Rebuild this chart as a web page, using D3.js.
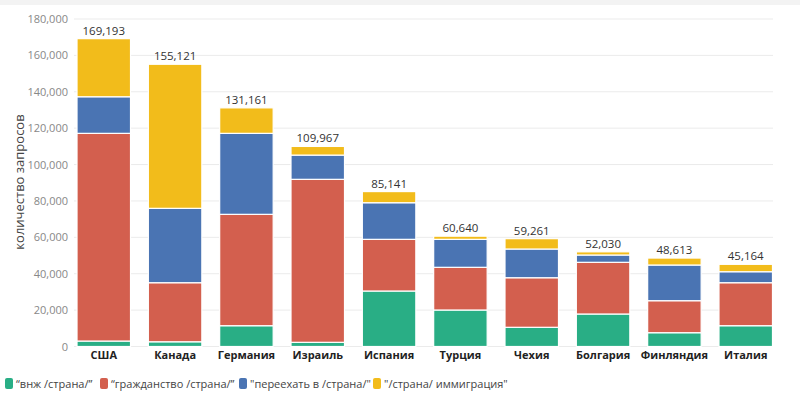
<!DOCTYPE html>
<html><head><meta charset="utf-8">
<script src="https://cdn.jsdelivr.net/npm/d3@7"></script>
<style>
body{margin:0;background:#fff;}
svg{display:block;font-family:"Open Sans","Noto Sans",sans-serif;}
</style></head>
<body><svg id="c" width="800" height="396"></svg>
<script>
const categories = ["США","Канада","Германия","Израиль","Испания","Турция","Чехия","Болгария","Финляндия","Италия"];
const seriesNames = ["“внж /страна/”","“гражданство /страна/”","\"переехать в /страна/\"","\"/страна/ иммиграция\""];
const vnzh       = [3000, 2600, 11430, 2300, 30500, 20060, 10550, 17860, 7580, 11430];
const grazhd     = [114150, 32460, 61210, 89580, 28400, 23460, 27250, 28410, 17590, 23630];
const pereehat   = [20115, 40880, 44510, 13320, 20120, 15380, 15780, 4010, 19610, 6040];
const immigracia = [31928, 79181, 14011, 4767, 6121, 1740, 5681, 1750, 3833, 4064];
const yTicks = [0,20000,40000,60000,80000,100000,120000,140000,160000,180000];
const colors = ["#29ae85","#d35f4e","#4a74b3","#f2bc1b"];
const yTitle = "количество запросов";

const svg = d3.select("#c");
svg.append("rect").attr("x",0).attr("y",0).attr("width",800).attr("height",5).attr("fill","#f3f3f3");

const x = d3.scaleBand().domain(categories).range([68.1,781.4]).paddingInner(0.25).paddingOuter(0.125);
const y = d3.scaleLinear().domain([0,180000]).range([346.5,19]);

// grid
svg.append("g").selectAll("line").data(yTicks).join("line")
  .attr("x1",74).attr("x2",773).attr("y1",d=>y(d)).attr("y2",d=>y(d))
  .attr("stroke","#ebebeb").attr("stroke-width",1);

// y axis
const yAxis = d3.axisLeft(y).tickValues(yTicks).tickFormat(d3.format(",")).tickSize(0).tickPadding(0);
const gy = svg.append("g").attr("transform","translate(68,0)").call(yAxis);
gy.select(".domain").remove();
gy.selectAll("text").attr("fill","#888").attr("font-size","11px").attr("font-family","'Open Sans',sans-serif");

svg.append("text").attr("transform","translate(24,182) rotate(-90)")
  .attr("text-anchor","middle").attr("font-size","13px").attr("fill","#444").text(yTitle);

// x axis
const xAxis = d3.axisBottom(x).tickSize(0).tickPadding(0);
const gx = svg.append("g").attr("transform","translate(0,351)").call(xAxis);
gx.select(".domain").remove();
gx.selectAll("text").attr("fill","#222").attr("font-size","11px").attr("font-weight","bold").attr("dy","0.71em").attr("font-family","'Open Sans',sans-serif");

// stacked data
const rows = categories.map((c,i)=>({cat:c, s0:vnzh[i], s1:grazhd[i], s2:pereehat[i], s3:immigracia[i]}));
const stack = d3.stack().keys(["s0","s1","s2","s3"])(rows);

svg.append("g").selectAll("g").data(stack).join("g").attr("fill",(d,i)=>colors[i])
  .selectAll("rect").data(d=>d).join("rect")
  .attr("x",d=>x(d.data.cat)).attr("width",x.bandwidth())
  .attr("y",d=>y(d[1])).attr("height",d=>Math.max(0,y(d[0])-y(d[1])))
  .attr("stroke","#fff").attr("stroke-width",1.2);

// totals
const fmt = d3.format(",");
svg.append("g").selectAll("text").data(rows).join("text")
  .attr("x",d=>x(d.cat)+x.bandwidth()/2)
  .attr("y",d=>y(d.s0+d.s1+d.s2+d.s3)-4)
  .attr("text-anchor","middle").attr("font-size","11.5px").attr("fill","#333")
  .text(d=>fmt(d.s0+d.s1+d.s2+d.s3));

// legend
const legX = [5,100,239,373];
const lg = svg.append("g").selectAll("g").data(seriesNames).join("g")
  .attr("transform",(d,i)=>`translate(${legX[i]},0)`);
lg.append("rect").attr("x",0).attr("y",378).attr("width",8).attr("height",11).attr("rx",2).attr("fill",(d,i)=>colors[i]);
lg.append("text").attr("x",11).attr("y",388).attr("font-size","11px").attr("fill","#444").text(d=>d);
</script></body></html>
